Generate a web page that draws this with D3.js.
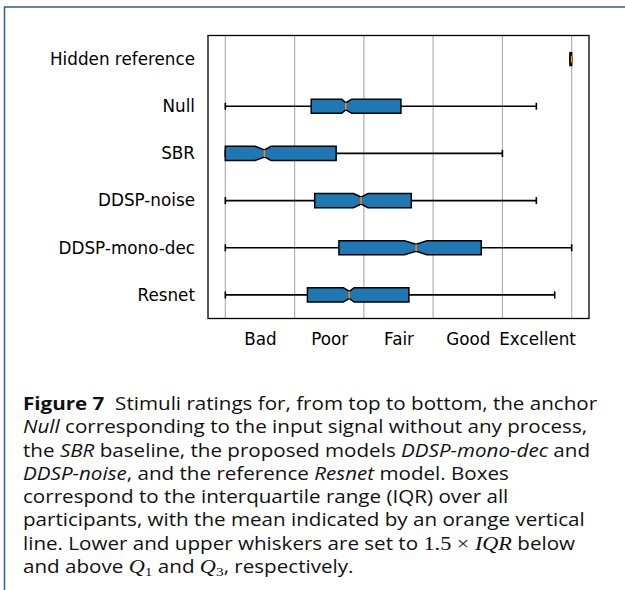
<!DOCTYPE html>
<html>
<head>
<meta charset="utf-8">
<script src="https://cdn.jsdelivr.net/npm/d3@7"></script>
<style>
  html, body { margin: 0; padding: 0; background: #fff; }
  svg { display: block; }
</style>
</head>
<body>
<svg id="chart" width="625" height="590"></svg>
<script>
// ---- data ----
const categories   = ["Hidden reference", "Null", "SBR", "DDSP-noise", "DDSP-mono-dec", "Resnet"];
const whiskerLow   = [99.5, 0, 0, 0, 0, 0];
const q1Values     = [99.5, 24.8, 0, 25.8, 32.8, 23.7];
const medianValues = [100, 34.8, 11.3, 39.2, 55.1, 35.8];
const q3Values     = [100, 50.7, 32.0, 53.7, 73.9, 53.0];
const whiskerHigh  = [100, 89.8, 80.0, 89.8, 100, 95.1];
const notchLow     = [99.5, 33.6, 8.6, 37.0, 51.7, 34.1];
const notchHigh    = [100, 36.5, 13.2, 41.2, 58.2, 37.2];
const gridValues   = [0, 20, 40, 60, 80, 100];
const tickValues   = [10, 30, 50, 70, 90];
const tickLabels   = ["Bad", "Poor", "Fair", "Good", "Excellent"];

const captionLines = [
  [["Figure 7", "b"], ["  Stimuli ratings for, from top to bottom, the anchor", "n"]],
  [["Null", "i"], [" corresponding to the input signal without any process,", "n"]],
  [["the ", "n"], ["SBR", "i"], [" baseline, the proposed models ", "n"], ["DDSP-mono-dec", "i"], [" and", "n"]],
  [["DDSP-noise", "i"], [", and the reference ", "n"], ["Resnet", "i"], [" model. Boxes", "n"]],
  [["correspond to the interquartile range (IQR) over all", "n"]],
  [["participants, with the mean indicated by an orange vertical", "n"]],
  [["line. Lower and upper whiskers are set to ", "n"], ["1.5", "m"], [" \u00D7 ", "m"], ["IQR", "mi"], [" below", "n"]],
  [["and above ", "n"], ["Q", "mi"], ["1", "sub"], [" and ", "n"], ["Q", "mi"], ["3", "sub"], [", respectively.", "n"]]
];

const rows = categories.map((c, i) => ({
  name: c, lo: whiskerLow[i], q1: q1Values[i], med: medianValues[i],
  q3: q3Values[i], hi: whiskerHigh[i], nlo: notchLow[i], nhi: notchHigh[i]
}));

const svg = d3.select("#chart");

// page frame (partial box like in the document)
svg.append("path")
  .attr("d", "M4.5,590 L4.5,7 L625,7")
  .attr("fill", "none")
  .attr("stroke", "#2f5d8c")
  .attr("stroke-width", 1.5);

const plot = { left: 208, right: 589, top: 35.5, bottom: 318.5 };

const x = d3.scaleLinear().domain([-5, 105]).range([plot.left, plot.right]);
const y = d3.scalePoint().domain(categories).range([plot.top, plot.bottom]).padding(0.5);
const step = y.step();
const boxH = step * 0.3;
const capH = boxH * 0.5;

const chartFont = "'DejaVu Sans', sans-serif";
const chartFontSize = 16.8;

// grid
svg.append("g").selectAll("line").data(gridValues).join("line")
  .attr("x1", d => x(d)).attr("x2", d => x(d))
  .attr("y1", plot.top).attr("y2", plot.bottom)
  .attr("stroke", "#b0b0b0").attr("stroke-width", 1.2);

// x axis labels
const xAxis = d3.axisBottom(x).tickValues(tickValues)
  .tickFormat((d, i) => tickLabels[i]).tickSize(0).tickPadding(15);
const gx = svg.append("g").attr("transform", `translate(0,${plot.bottom})`).call(xAxis);
gx.select(".domain").remove();
gx.selectAll("text").attr("font-family", chartFont).attr("font-size", chartFontSize).attr("fill", "#000");

// y axis labels
const yAxis = d3.axisLeft(y).tickSize(0).tickPadding(13);
const gy = svg.append("g").attr("transform", `translate(${plot.left},0)`).call(yAxis);
gy.select(".domain").remove();
gy.selectAll("text").attr("font-family", chartFont).attr("font-size", chartFontSize).attr("fill", "#000");

// boxes
const g = svg.append("g").selectAll("g").data(rows).join("g");

// whiskers
g.append("line")
  .attr("x1", d => x(d.lo)).attr("x2", d => x(d.q1))
  .attr("y1", d => y(d.name)).attr("y2", d => y(d.name))
  .attr("stroke", "#000").attr("stroke-width", 1.6);
g.append("line")
  .attr("x1", d => x(d.q3)).attr("x2", d => x(d.hi))
  .attr("y1", d => y(d.name)).attr("y2", d => y(d.name))
  .attr("stroke", "#000").attr("stroke-width", 1.6);
// caps
g.append("line")
  .attr("x1", d => x(d.lo)).attr("x2", d => x(d.lo))
  .attr("y1", d => y(d.name) - capH / 2).attr("y2", d => y(d.name) + capH / 2)
  .attr("stroke", "#000").attr("stroke-width", 1.6);
g.append("line")
  .attr("x1", d => x(d.hi)).attr("x2", d => x(d.hi))
  .attr("y1", d => y(d.name) - capH / 2).attr("y2", d => y(d.name) + capH / 2)
  .attr("stroke", "#000").attr("stroke-width", 1.6);

// notched box
g.append("path")
  .attr("d", d => {
    const cy = y(d.name), h = boxH / 2, w = boxH / 4;
    const pts = [
      [x(d.q1), cy - h], [x(d.nlo), cy - h], [x(d.med), cy - w], [x(d.nhi), cy - h],
      [x(d.q3), cy - h], [x(d.q3), cy + h], [x(d.nhi), cy + h], [x(d.med), cy + w],
      [x(d.nlo), cy + h], [x(d.q1), cy + h]
    ];
    return "M" + pts.map(p => p.join(",")).join("L") + "Z";
  })
  .attr("fill", "#1f77b4").attr("stroke", "#000").attr("stroke-width", 1.5)
  .attr("stroke-linejoin", "miter");

// median
g.append("line")
  .attr("x1", d => x(d.med)).attr("x2", d => x(d.med))
  .attr("y1", d => y(d.name) - boxH / 4).attr("y2", d => y(d.name) + boxH / 4)
  .attr("stroke", "#ff7f0e").attr("stroke-width", 1.6);

// frame
svg.append("rect")
  .attr("x", plot.left).attr("y", plot.top)
  .attr("width", plot.right - plot.left).attr("height", plot.bottom - plot.top)
  .attr("fill", "none").attr("stroke", "#000").attr("stroke-width", 1.3);

// caption
const capFont = "'Open Sans', 'Noto Sans', sans-serif";
const mathFont = "'Liberation Serif', 'DejaVu Serif', serif";
const capX = 23, capY0 = 410, capDY = 23.3, capTargetWidth = 574;
const capSize = 17.5;
const capG = svg.append("g");
captionLines.forEach((segs, li) => {
  const t = capG.append("text")
    .attr("x", capX).attr("y", capY0 + li * capDY)
    .attr("font-family", capFont).attr("font-size", capSize).attr("fill", "#111")
    .style("white-space", "pre");
  segs.forEach(([txt, st]) => {
    const s = t.append("tspan").text(txt);
    if (st === "b") s.attr("font-weight", "bold");
    if (st === "i") s.attr("font-style", "italic");
    if (st === "m") s.attr("font-family", mathFont).attr("font-size", capSize * 1.08);
    if (st === "mi") s.attr("font-family", mathFont).attr("font-style", "italic").attr("font-size", capSize * 1.08);
    if (st === "sub") s.attr("font-family", mathFont).attr("font-size", capSize * 0.75).attr("baseline-shift", "-25%");
  });
});
function fitCaption() {
  const w = capG.select("text").node().getBBox().width;
  if (w > 0) {
    const sx = capTargetWidth / w;
    capG.attr("transform", `translate(${capX},0) scale(${sx},1) translate(${-capX},0)`);
  }
}
fitCaption();
if (document.fonts && document.fonts.ready) document.fonts.ready.then(fitCaption);
</script>
</body>
</html>
